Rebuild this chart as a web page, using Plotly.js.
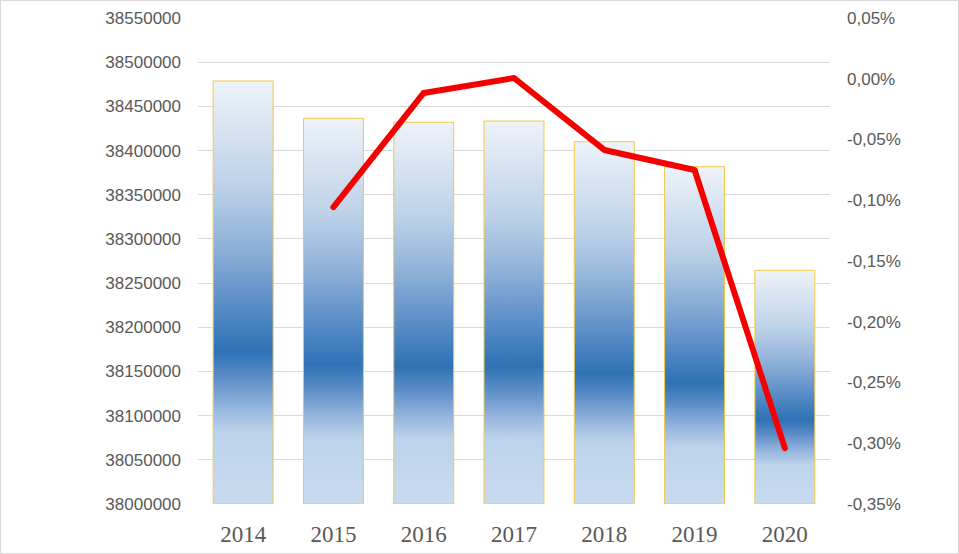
<!DOCTYPE html>
<html>
<head>
<meta charset="utf-8">
<script src="https://cdn.plot.ly/plotly-3.0.1.min.js"></script>
<style>
html,body{margin:0;padding:0;background:#fff;}
#chart{width:959px;height:554px;box-sizing:border-box;border:1px solid #d9d9d9;}
</style>
</head>
<body>
<svg width="0" height="0" style="position:absolute">
  <defs>
    <linearGradient id="barGrad" gradientUnits="objectBoundingBox" x1="0" y1="0" x2="0" y2="1">
      <stop offset="0%" stop-color="#eef3f9"/>
      <stop offset="25%" stop-color="#bcd1e8"/>
      <stop offset="40%" stop-color="#8cafd7"/>
      <stop offset="50%" stop-color="#6594cb"/>
      <stop offset="58%" stop-color="#4580c0"/>
      <stop offset="64%" stop-color="#2e72b5"/>
      <stop offset="70%" stop-color="#5a8cc7"/>
      <stop offset="77%" stop-color="#93b4dc"/>
      <stop offset="83%" stop-color="#bcd3eb"/>
      <stop offset="100%" stop-color="#c8dbf0"/>
    </linearGradient>
  </defs>
</svg>
<div id="chart"></div>
<script>
const years = ['2014','2015','2016','2017','2018','2019','2020'];
const population = [38478700, 38436500, 38432000, 38433400, 38410000, 38381700, 38264500];
const changePct = [null, -0.1056, -0.0117, 0.0006, -0.0586, -0.0751, -0.304];
const pctTickVals = [0.05, 0, -0.05, -0.10, -0.15, -0.20, -0.25, -0.30, -0.35];
const pctTickText = ['0,05%', '0,00%', '-0,05%', '-0,10%', '-0,15%', '-0,20%', '-0,25%', '-0,30%', '-0,35%'];

const axisMin = 38000000;
const axisMax = 38550000;
const labelColor = '#595959';
const gridColor = '#d9d9d9';

// bars start at the axis minimum so each bar's gradient spans only its visible part
const bars = {
  type: 'bar', x: years, y: population.map(function(v){ return v - axisMin; }), base: axisMin, yaxis: 'y',
  marker: {color: '#6f9bcf', line: {color: '#f0c845', width: 1}},
  hoverinfo: 'skip'
};
const line = {
  type: 'scatter', mode: 'lines', x: years, y: changePct, yaxis: 'y2',
  line: {color: '#f50000', width: 6}, connectgaps: false,
  hoverinfo: 'skip'
};

const layout = {
  width: 957, height: 552,
  margin: {l: 197, r: 128, t: 17, b: 49},
  paper_bgcolor: '#fff', plot_bgcolor: '#fff',
  showlegend: false,
  bargap: 0.336,
  xaxis: {
    type: 'category', showgrid: false, showline: false, zeroline: false,
    ticks: '', ticklabelstandoff: 14,
    tickfont: {family: 'Liberation Serif, Times New Roman, serif', size: 23, color: labelColor}
  },
  yaxis: {
    range: [axisMin, axisMax], dtick: 50000, tick0: axisMin, tickformat: 'd',
    showgrid: true, gridcolor: gridColor, gridwidth: 1, zeroline: false, showline: false,
    ticks: '', ticklabelstandoff: 16,
    tickfont: {family: 'Liberation Sans, Arial, sans-serif', size: 17, color: labelColor}
  },
  yaxis2: {
    overlaying: 'y', side: 'right',
    range: [-0.35, 0.05], tickmode: 'array', tickvals: pctTickVals, ticktext: pctTickText,
    showgrid: false, zeroline: false, showline: false,
    ticks: '', ticklabelstandoff: 16,
    tickfont: {family: 'Liberation Sans, Arial, sans-serif', size: 17, color: labelColor}
  }
};

function applyStyles(gd){
  gd.querySelectorAll('.barlayer .point path').forEach(function(p){
    p.style.fill = 'url(#barGrad)';
  });
  gd.querySelectorAll('.scatterlayer .js-line').forEach(function(p){
    p.style.strokeLinecap = 'round';
    p.style.strokeLinejoin = 'round';
  });
}

Plotly.newPlot('chart', [bars, line], layout, {staticPlot: true, displayModeBar: false}).then(function(gd){
  applyStyles(gd);
});
</script>
</body>
</html>
